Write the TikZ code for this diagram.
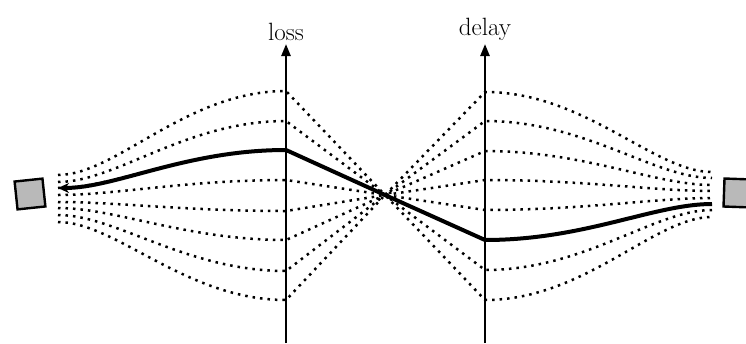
\documentclass[tikz,border=0pt]{standalone}
\usepackage{tikz}
\usetikzlibrary{arrows.meta,calc}
\tikzset{
  route/.style={line width=2.5pt,dash pattern=on 2.5pt off 5pt},
  best/.style={line width=4pt},
  axis/.style={line width=2.4pt,-{Triangle[length=12pt,width=9pt]}},
  device/.style={draw,line width=2.4pt,fill=gray!55,minimum size=28pt,inner sep=0pt},
  axislabel/.style={font=\fontsize{25}{30}\selectfont,inner sep=2pt}
}

\begin{document}
\begin{tikzpicture}[x=1pt,y=-1pt]
  \useasboundingbox (0,0) rectangle (746,343);
  % end devices
  \node[device,rotate=6] (sender) at (30,194) {};
  \node[device,rotate=-2] (receiver) at (738,193) {};
  % meeting point and axes
  \coordinate (meet) at (385,195);
  \coordinate (lossfoot) at (286,343);
  \coordinate (delayfoot) at (485,343);
  \coordinate (losstip) at (286,44);
  \coordinate (delaytip) at (485,44);
  % candidate paths
  \foreach \i/\yl/\ya/\yd/\yr in {1/175/91/92/172,2/182/121/121/178,3/188/150/151/185,
      4/195/180/180/191,5/202/211/210/198,6/208/240/240/204,7/215/271/270/210,8/222/300/300/217}{
    \coordinate (l\i) at (58,\yl);
    \coordinate (a\i) at (286,\ya);
    \coordinate (d\i) at (485,\yd);
    \coordinate (r\i) at (712,\yr);
    \draw[route] (l\i) .. controls ($(l\i)+(58,0)$) and ($(a\i)+(-100,0)$) .. (a\i) -- (meet)
      -- (d\i) .. controls ($(d\i)+(100,0)$) and ($(r\i)+(-58,0)$) .. (r\i);
  }
  % chosen path
  \draw[best,{Stealth[length=11pt,width=10pt]}-] (l3) .. controls ($(l3)+(58,0)$) and ($(a3)+(-100,0)$) .. (a3)
    -- (meet) -- (d6) .. controls ($(d6)+(100,0)$) and ($(r6)+(-58,0)$) .. (r6);
  % axes
  \draw[axis] (lossfoot) -- (losstip) node[above,axislabel] (losslabel) {loss};
  \draw[axis] (delayfoot) -- (delaytip) node[above,axislabel] (delaylabel) {delay};
\end{tikzpicture}
\end{document}
